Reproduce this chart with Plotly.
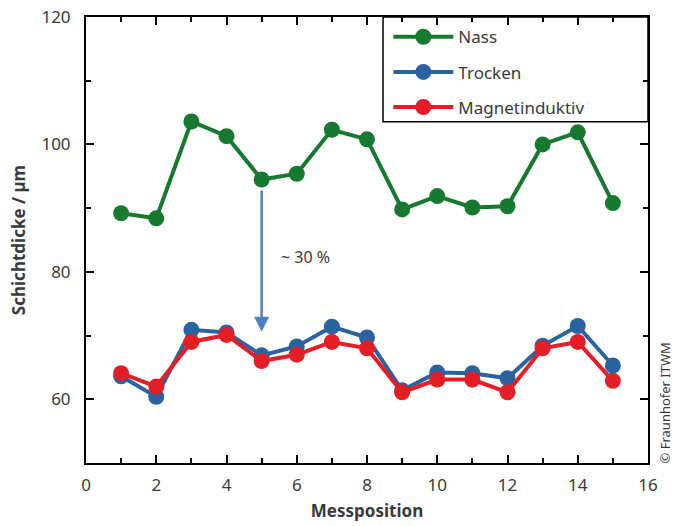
import plotly.graph_objects as go

positions = list(range(1, 16))
nass = [89.2, 88.4, 103.6, 101.3, 94.5, 95.4, 102.3, 100.8, 89.8, 91.9, 90.1, 90.3, 100.0, 101.9, 90.8]
trocken = [63.6, 60.4, 70.9, 70.5, 66.9, 68.3, 71.4, 69.7, 61.4, 64.2, 64.1, 63.3, 68.4, 71.5, 65.3]
magnet = [64.1, 62.0, 69.0, 70.1, 66.0, 67.0, 69.0, 68.0, 61.1, 63.1, 63.1, 61.1, 68.0, 69.0, 62.9]

series_names = ["Nass", "Trocken", "Magnetinduktiv"]
series_colors = ["#17792f", "#2b62a0", "#e41e26"]

font_family = "Noto Sans, Open Sans, sans-serif"
text_color = "#3a3a3a"

fig = go.Figure()
for name, vals, col in zip(series_names, [nass, trocken, magnet], series_colors):
    fig.add_trace(go.Scatter(
        x=positions, y=vals, name=name, mode="lines+markers", legendgroup=name,
        line=dict(color=col, width=4),
        marker=dict(color=col, size=16),
    ))

# Arrow annotation showing ~30 % reduction
fig.add_annotation(
    x=5, y=70.6, ax=5, ay=93.0, xref="x", yref="y", axref="x", ayref="y",
    showarrow=True, arrowhead=2, arrowsize=1.2, arrowwidth=2.5,
    arrowcolor="#4a82c4", text="",
)
fig.add_annotation(
    x=5.5, y=82.4, xref="x", yref="y", text="~ 30 %", showarrow=False,
    xanchor="left", yanchor="middle",
    font=dict(family=font_family, size=16, color=text_color),
)
fig.add_annotation(
    x=1.0, y=0.0, xref="paper", yref="paper", text="© Fraunhofer ITWM",
    showarrow=False, textangle=-90, xanchor="left", yanchor="bottom",
    xshift=6, yshift=-2, borderpad=0,
    font=dict(family=font_family, size=13, color=text_color),
)

# Legend frame
fig.add_shape(
    type="rect", xref="paper", yref="paper",
    x0=0.5285, x1=1.0, y0=0.765, y1=1.0,
    line=dict(color="black", width=1.5), fillcolor="rgba(0,0,0,0)", layer="above",
)

axis_common = dict(
    showline=True, linecolor="black", linewidth=2, mirror="ticks",
    ticks="inside", ticklen=8, tickwidth=2, tickcolor="black",
    showgrid=False, zeroline=False, automargin=False,
    tickfont=dict(family=font_family, size=17, color=text_color),
)

fig.update_xaxes(
    range=[0, 16], tickvals=list(range(0, 17, 2)), ticklabelstandoff=6,
    minor=dict(ticks="inside", ticklen=5, tickwidth=2, tickcolor="black", dtick=1, tick0=0, showgrid=False),
    title=dict(text="<b>Messposition</b>", font=dict(family=font_family, size=17, color=text_color), standoff=10),
    **axis_common,
)
fig.update_yaxes(
    range=[50, 120], tickvals=[60, 80, 100, 120], ticklabelstandoff=10,
    minor=dict(ticks="inside", ticklen=5, tickwidth=2, tickcolor="black", dtick=10, tick0=50, showgrid=False),
    title=dict(text="<b>Schichtdicke / µm</b>", font=dict(family=font_family, size=17, color=text_color), standoff=11),
    **axis_common,
)

fig.update_layout(
    width=675, height=526,
    margin=dict(l=86, r=27, t=17, b=63),
    plot_bgcolor="white", paper_bgcolor="white",
    legend=dict(
        x=0.538, y=0.995, xanchor="left", yanchor="top",
        borderwidth=0, bgcolor="rgba(0,0,0,0)",
        font=dict(family=font_family, size=17, color=text_color),
        traceorder="grouped", tracegroupgap=10, itemwidth=60,
    ),
)

fig.write_html(
    "out.html",
    config={"displayModeBar": False},
    post_script="document.body.style.margin='0';document.body.style.padding='0';",
)
